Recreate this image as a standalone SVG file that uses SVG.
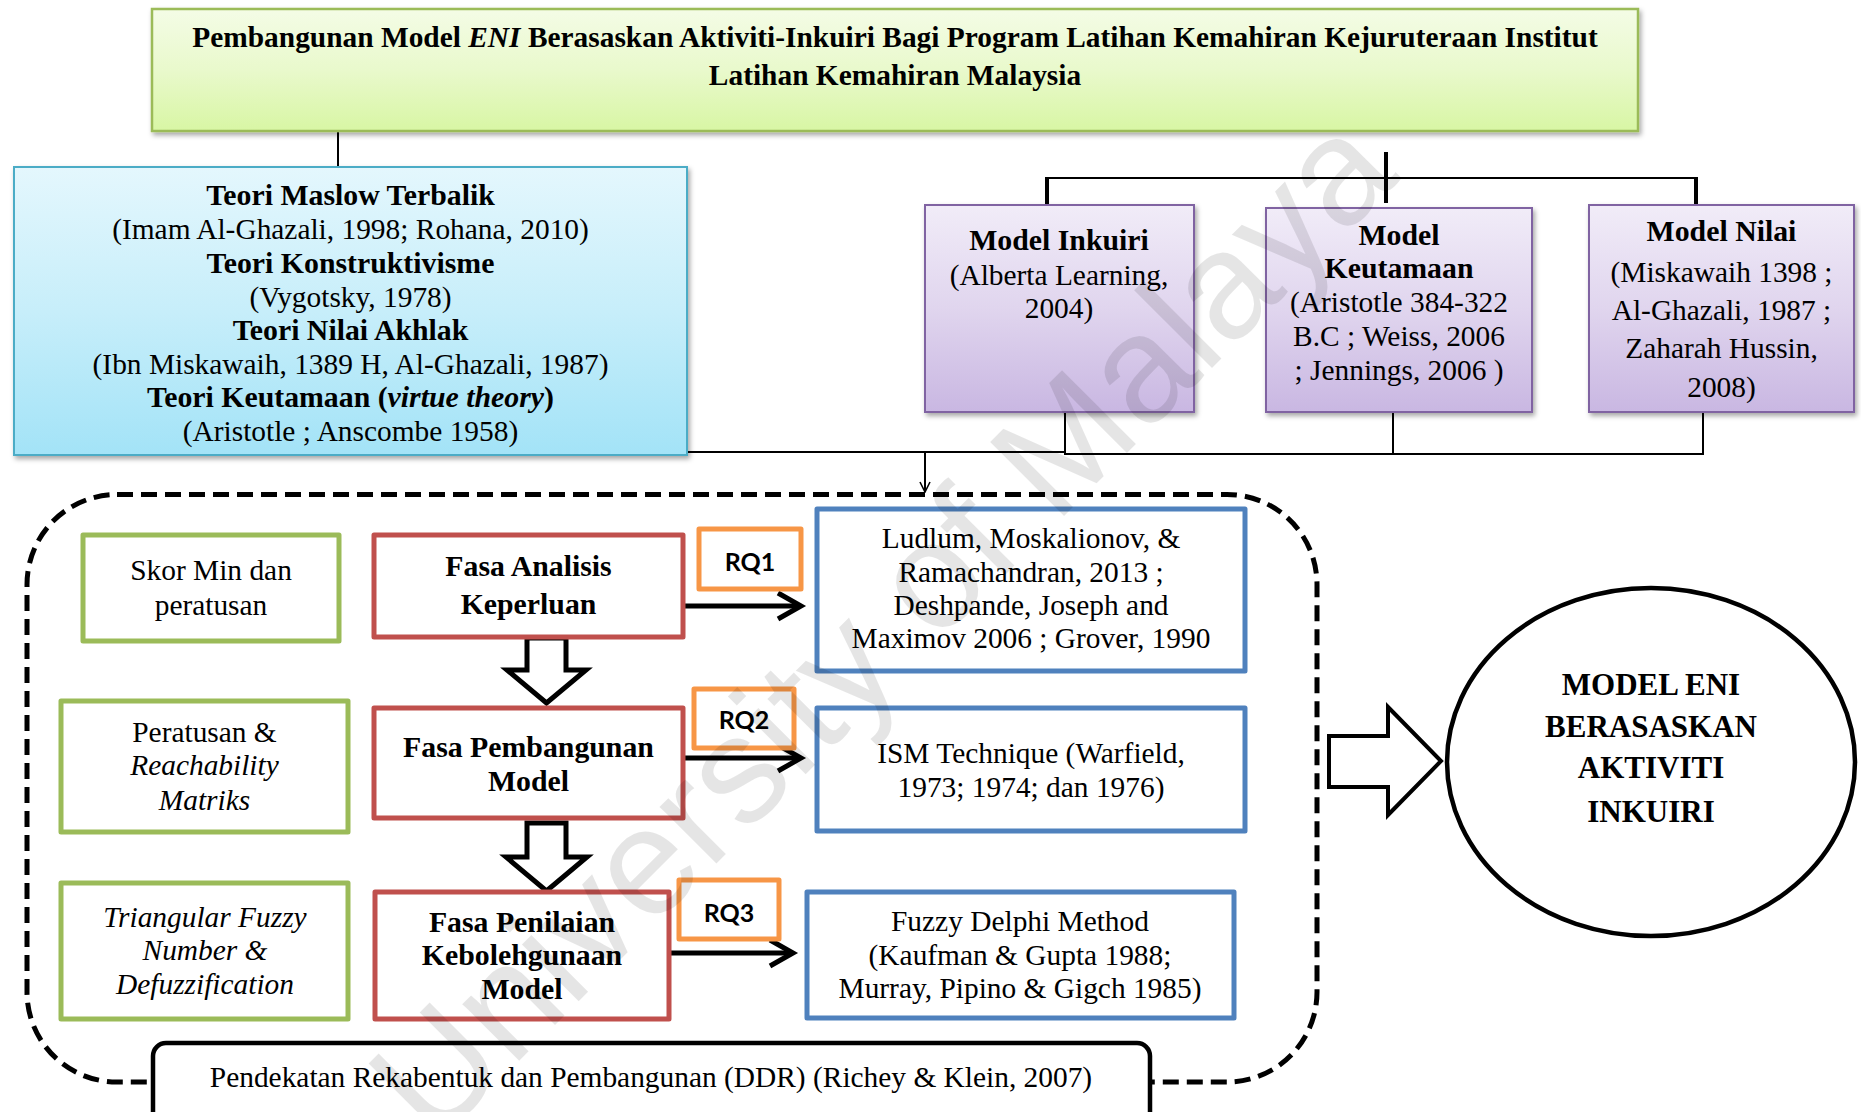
<svg xmlns="http://www.w3.org/2000/svg" width="1861" height="1112" viewBox="0 0 1861 1112">
  <defs>
    <linearGradient id="gTitle" x1="0" y1="0" x2="0" y2="1">
      <stop offset="0" stop-color="#f4fce6"/>
      <stop offset="0.5" stop-color="#e9f9cc"/>
      <stop offset="1" stop-color="#d8f6a4"/>
    </linearGradient>
    <linearGradient id="gTheory" x1="0" y1="0" x2="0" y2="1">
      <stop offset="0" stop-color="#e4f7fd"/>
      <stop offset="0.5" stop-color="#c7eefa"/>
      <stop offset="1" stop-color="#a3e3f7"/>
    </linearGradient>
    <linearGradient id="gModel" x1="0" y1="0" x2="0" y2="1">
      <stop offset="0" stop-color="#f1ecf8"/>
      <stop offset="0.5" stop-color="#e0d5ee"/>
      <stop offset="1" stop-color="#c9b7e2"/>
    </linearGradient>
    <filter id="shadow" x="-5%" y="-5%" width="110%" height="115%">
      <feDropShadow dx="2" dy="3" stdDeviation="2.5" flood-color="#000" flood-opacity="0.35"/>
    </filter>
    <marker id="openArrow" viewBox="0 0 12 12" refX="11" refY="6" markerWidth="12" markerHeight="12" markerUnits="userSpaceOnUse" orient="auto">
      <path d="M1,1 L11,6 L1,11" fill="none" stroke="#000" stroke-width="1.6"/>
    </marker>
  </defs>
  <style>
    text { font-family: "Liberation Serif", "Times New Roman", serif; font-size: 29.4px; fill: #000; text-anchor: middle; }
    .b { font-weight: bold; font-size: 29.8px; }
    .t { font-weight: bold; font-size: 29.4px; }
    .i { font-style: italic; }
    .rq { font-family: Lato, "Open Sans", sans-serif; font-weight: bold; font-size: 25px; }
    .big { font-size: 31px; font-weight: bold; }
    .line { fill: none; stroke: #000; stroke-width: 2; }
    .thick { fill: none; stroke: #000; stroke-width: 4; }
    .green { fill: #fff; stroke: #9bbb59; stroke-width: 5; stroke-linejoin: round; }
    .red { fill: #fff; stroke: #c0504d; stroke-width: 5; stroke-linejoin: round; }
    .orange { fill: #fff; stroke: #f79646; stroke-width: 5; stroke-linejoin: round; }
    .blue { fill: #fff; stroke: #4f81bd; stroke-width: 5; stroke-linejoin: round; }
    .hollow { fill: #fff; stroke: #000; stroke-width: 5; stroke-linejoin: miter; }
    .rqarrow { fill: none; stroke: #000; stroke-width: 5; }
    .watermark { font-family: "Liberation Sans", Arial, sans-serif; font-size: 152px; fill: #000; fill-opacity: 0.1; }
  </style>

  <rect width="1861" height="1112" fill="#fff"/>

  <!-- connectors -->
  <g id="connectors">
    <line class="line" x1="338" y1="131" x2="338" y2="167"/>
    <line class="thick" x1="1386" y1="152" x2="1386" y2="203"/>
    <line class="line" x1="1047" y1="178" x2="1696" y2="178"/>
    <line class="thick" x1="1047" y1="177" x2="1047" y2="205"/>
    <line class="thick" x1="1696" y1="177" x2="1696" y2="205"/>
    <line class="line" x1="1065" y1="412" x2="1065" y2="454"/>
    <line class="line" x1="1393" y1="412" x2="1393" y2="454"/>
    <line class="line" x1="1703" y1="412" x2="1703" y2="454"/>
    <line class="line" x1="1064" y1="454" x2="1704" y2="454"/>
    <line class="line" x1="687" y1="452" x2="1066" y2="452"/>
    <line class="line" x1="925" y1="451" x2="925" y2="492" marker-end="url(#openArrow)"/>
    <!-- phase arrows -->
    <path class="hollow" d="M527,638 H566 V670 H586 L546.5,703 L507,670 H527 Z"/>
    <path class="hollow" d="M527,823 H566 V857 H587 L546.5,891 L506,857 H527 Z"/>
    <!-- research question arrows -->
    <line class="rqarrow" x1="683" y1="606" x2="798" y2="606"/>
    <path class="rqarrow" d="M778,593 L801,606 L778,619"/>
    <line class="rqarrow" x1="683" y1="758" x2="798" y2="758"/>
    <path class="rqarrow" d="M778,745 L801,758 L778,771"/>
    <line class="rqarrow" x1="669" y1="953" x2="790" y2="953"/>
    <path class="rqarrow" d="M770,940 L793,953 L770,966"/>
    <!-- output arrow -->
    <path class="hollow" style="stroke-width:4" d="M1329,736 H1388 V707 L1441,761 L1388,815 V787 H1329 Z"/>
  </g>

  <!-- title -->
  <g id="title">
    <rect x="152" y="9" width="1486" height="122" fill="url(#gTitle)" stroke="#9bbb59" stroke-width="2.5" filter="url(#shadow)"/>
    <text class="t" x="895" y="47">Pembangunan Model <tspan class="i">ENI</tspan> Berasaskan Aktiviti-Inkuiri Bagi Program Latihan Kemahiran Kejuruteraan Institut</text>
    <text class="t" x="895" y="85">Latihan Kemahiran Malaysia</text>
  </g>

  <!-- theories -->
  <g id="theories">
    <rect x="14" y="167" width="673" height="288" fill="url(#gTheory)" stroke="#4bacc6" stroke-width="2" filter="url(#shadow)"/>
    <text class="b" x="350.5" y="205">Teori Maslow Terbalik</text>
    <text x="350.5" y="239">(Imam Al-Ghazali, 1998; Rohana, 2010)</text>
    <text class="b" x="350.5" y="273">Teori Konstruktivisme</text>
    <text x="350.5" y="307">(Vygotsky, 1978)</text>
    <text class="b" x="350.5" y="340">Teori Nilai Akhlak</text>
    <text x="350.5" y="374">(Ibn Miskawaih, 1389 H, Al-Ghazali, 1987)</text>
    <text class="b" x="350.5" y="407">Teori Keutamaan (<tspan class="i">virtue theory</tspan>)</text>
    <text x="350.5" y="441">(Aristotle ; Anscombe 1958)</text>
  </g>

  <!-- models -->
  <g id="model-inkuiri">
    <rect x="925" y="205" width="269" height="207" fill="url(#gModel)" stroke="#8064a2" stroke-width="2" filter="url(#shadow)"/>
    <text class="b" x="1059" y="250">Model Inkuiri</text>
    <text x="1059" y="285">(Alberta Learning,</text>
    <text x="1059" y="318">2004)</text>
  </g>
  <g id="model-keutamaan">
    <rect x="1266" y="208" width="266" height="204" fill="url(#gModel)" stroke="#8064a2" stroke-width="2" filter="url(#shadow)"/>
    <text class="b" x="1399" y="245">Model</text>
    <text class="b" x="1399" y="278">Keutamaan</text>
    <text x="1399" y="312">(Aristotle 384-322</text>
    <text x="1399" y="346">B.C ; Weiss, 2006</text>
    <text x="1399" y="380">; Jennings, 2006 )</text>
  </g>
  <g id="model-nilai">
    <rect x="1589" y="205" width="265" height="207" fill="url(#gModel)" stroke="#8064a2" stroke-width="2" filter="url(#shadow)"/>
    <text class="b" x="1721.5" y="241">Model Nilai</text>
    <text x="1721.5" y="282">(Miskawaih 1398 ;</text>
    <text x="1721.5" y="320">Al-Ghazali, 1987 ;</text>
    <text x="1721.5" y="358">Zaharah Hussin,</text>
    <text x="1721.5" y="397">2008)</text>
  </g>

  <!-- DDR frame -->
  <g id="ddr-frame">
    <rect x="27" y="494.5" width="1290" height="587.5" rx="90" ry="90" fill="none" stroke="#000" stroke-width="5" stroke-dasharray="16 8"/>
  </g>
  <g id="ddr-label">
    <rect x="153" y="1043" width="997" height="90" rx="13" ry="13" fill="#fff" stroke="#000" stroke-width="4.5"/>
    <text x="651" y="1087">Pendekatan Rekabentuk dan Pembangunan (DDR) (Richey &amp; Klein, 2007)</text>
  </g>

  <!-- analysis methods -->
  <g id="skor-min">
    <rect class="green" x="83" y="535" width="256" height="106"/>
    <text x="211" y="580">Skor Min dan</text>
    <text x="211" y="615">peratusan</text>
  </g>
  <g id="reachability">
    <rect class="green" x="61" y="701" width="287" height="131"/>
    <text x="204.5" y="742">Peratusan &amp;</text>
    <text class="i" x="204.5" y="775">Reachability</text>
    <text class="i" x="204.5" y="810">Matriks</text>
  </g>
  <g id="fuzzy-number">
    <rect class="green" x="61" y="883" width="287" height="136"/>
    <text class="i" x="205" y="927">Triangular Fuzzy</text>
    <text class="i" x="205" y="960">Number &amp;</text>
    <text class="i" x="205" y="994">Defuzzification</text>
  </g>

  <!-- phases -->
  <g id="fasa-analisis">
    <rect class="red" x="374" y="535" width="309" height="102"/>
    <text class="b" x="528.5" y="576">Fasa Analisis</text>
    <text class="b" x="528.5" y="614">Keperluan</text>
  </g>
  <g id="fasa-pembangunan">
    <rect class="red" x="374" y="708" width="309" height="110"/>
    <text class="b" x="528.5" y="757">Fasa Pembangunan</text>
    <text class="b" x="528.5" y="791">Model</text>
  </g>
  <g id="fasa-penilaian">
    <rect class="red" x="375" y="892" width="294" height="127"/>
    <text class="b" x="522" y="932">Fasa Penilaian</text>
    <text class="b" x="522" y="965">Kebolehgunaan</text>
    <text class="b" x="522" y="999">Model</text>
  </g>

  <!-- research questions -->
  <g id="rq1">
    <rect class="orange" x="699" y="529" width="102" height="60"/>
    <text class="rq" x="750" y="571">RQ1</text>
  </g>
  <g id="rq2">
    <rect class="orange" x="694" y="689" width="100" height="59"/>
    <text class="rq" x="744" y="729">RQ2</text>
  </g>
  <g id="rq3">
    <rect class="orange" x="679" y="880" width="100" height="59"/>
    <text class="rq" x="729" y="922">RQ3</text>
  </g>

  <!-- references per phase -->
  <g id="ref-analisis">
    <rect class="blue" x="817" y="509" width="428" height="162"/>
    <text x="1031" y="548">Ludlum, Moskalionov, &amp;</text>
    <text x="1031" y="582">Ramachandran, 2013 ;</text>
    <text x="1031" y="615">Deshpande, Joseph and</text>
    <text x="1031" y="648">Maximov 2006 ; Grover, 1990</text>
  </g>
  <g id="ref-ism">
    <rect class="blue" x="817" y="708" width="428" height="123"/>
    <text x="1031" y="763">ISM Technique (Warfield,</text>
    <text x="1031" y="797">1973; 1974; dan 1976)</text>
  </g>
  <g id="ref-fuzzy">
    <rect class="blue" x="807" y="892" width="427" height="126"/>
    <text x="1020" y="931">Fuzzy Delphi Method</text>
    <text x="1020" y="965">(Kaufman &amp; Gupta 1988;</text>
    <text x="1020" y="998">Murray, Pipino &amp; Gigch 1985)</text>
  </g>

  <!-- outcome -->
  <g id="model-eni">
    <ellipse cx="1651" cy="762" rx="204" ry="174" fill="#fff" stroke="#000" stroke-width="4.5"/>
    <text class="big" x="1651" y="695">MODEL ENI</text>
    <text class="big" x="1651" y="737">BERASASKAN</text>
    <text class="big" x="1651" y="778">AKTIVITI</text>
    <text class="big" x="1651" y="822">INKUIRI</text>
  </g>

  <!-- watermark -->
  <text class="watermark" x="0" y="0" transform="translate(918,662) rotate(-45)">University of Malaya</text>
</svg>
